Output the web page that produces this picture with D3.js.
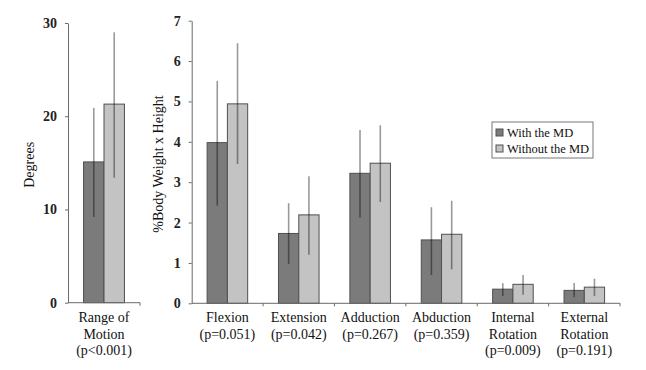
<!DOCTYPE html>
<html>
<head>
<meta charset="utf-8">
<script src="https://d3js.org/d3.v7.min.js"></script>
<style>
  body { margin: 0; background: #fff; }
</style>
</head>
<body>
<svg width="646" height="370"></svg>
<script>
const FONT = "'Liberation Serif', 'Times New Roman', Times, 'DejaVu Serif', serif";

// data
const series = ["With the MD", "Without the MD"];
const romCats = ["Range of Motion"];
const romLabels = [["Range of", "Motion", "(p<0.001)"]];
const romWith = [15.1];
const romWithout = [21.3];
const romWithErr = [[9.2, 20.9]];
const romWithoutErr = [[13.4, 29.0]];

const momCats = ["Flexion", "Extension", "Adduction", "Abduction", "Internal Rotation", "External Rotation"];
const momLabels = [
  ["Flexion", "(p=0.051)"],
  ["Extension", "(p=0.042)"],
  ["Adduction", "(p=0.267)"],
  ["Abduction", "(p=0.359)"],
  ["Internal", "Rotation", "(p=0.009)"],
  ["External", "Rotation", "(p=0.191)"]
];
const momWith = [3.98, 1.73, 3.22, 1.57, 0.35, 0.32];
const momWithout = [4.94, 2.19, 3.47, 1.71, 0.47, 0.40];
const momWithErr = [[2.42, 5.51], [0.97, 2.48], [2.12, 4.29], [0.70, 2.38], [0.18, 0.50], [0.15, 0.50]];
const momWithoutErr = [[3.45, 6.44], [1.20, 3.15], [2.51, 4.41], [0.84, 2.54], [0.21, 0.70], [0.18, 0.61]];

const romTicks = [0, 10, 20, 30];
const momTicks = [0, 1, 2, 3, 4, 5, 6, 7];

const colors = ["#7b7b7b", "#c3c3c3"];
const svg = d3.select("svg");

function panel(opts) {
  const rows = opts.cats.map((c, i) => ({
    cat: c,
    label: opts.labels[i],
    vals: [
      { s: series[0], v: opts.with[i], e: opts.withErr[i] },
      { s: series[1], v: opts.without[i], e: opts.withoutErr[i] }
    ]
  }));

  const x0 = d3.scaleBand().domain(opts.cats).range([opts.left, opts.right]).padding(0);
  const x1 = d3.scaleBand().domain(series).range([0, x0.bandwidth()]).paddingOuter(0.76).paddingInner(0);
  const y = d3.scaleLinear().domain(opts.domain).range([opts.bottom, opts.top]);

  const g = svg.append("g");

  // y axis
  const ya = g.append("g")
    .attr("transform", `translate(${opts.left},0)`)
    .call(d3.axisLeft(y).tickValues(opts.ticks).tickFormat(d3.format("d"))
      .tickSize(3).tickPadding(8).tickSizeOuter(0));
  ya.select(".domain").attr("stroke", "#6a6a6a");
  ya.selectAll(".tick line").attr("stroke", "#6a6a6a");
  ya.selectAll(".tick text")
    .style("font-family", FONT)
    .style("font-size", "14px")
    .style("font-weight", "bold")
    .attr("fill", "#222");

  // bars
  const grp = g.selectAll(".grp").data(rows).enter().append("g")
    .attr("transform", d => `translate(${x0(d.cat)},0)`);

  grp.selectAll("rect").data(d => d.vals).enter().append("rect")
    .attr("x", d => x1(d.s))
    .attr("y", d => y(d.v))
    .attr("width", x1.bandwidth())
    .attr("height", d => y(0) - y(d.v))
    .attr("fill", (d, i) => colors[i])
    .attr("stroke", "#505050")
    .attr("stroke-width", 1);

  grp.selectAll("line.err").data(d => d.vals).enter().append("line")
    .attr("class", "err")
    .attr("x1", d => x1(d.s) + x1.bandwidth() / 2)
    .attr("x2", d => x1(d.s) + x1.bandwidth() / 2)
    .attr("y1", d => y(d.e[0]))
    .attr("y2", d => y(d.e[1]))
    .attr("stroke", "#000")
    .attr("stroke-opacity", 0.4)
    .attr("stroke-width", 1.6);

  // x axis line with ticks at category edges
  g.append("line")
    .attr("x1", opts.left).attr("x2", opts.right)
    .attr("y1", y(0)).attr("y2", y(0))
    .attr("stroke", "#6a6a6a");
  const edges = opts.cats.map(c => x0(c) + x0.bandwidth());
  g.selectAll(".xt").data(edges).enter().append("line")
    .attr("x1", d => d).attr("x2", d => d)
    .attr("y1", y(0)).attr("y2", y(0) + 3)
    .attr("stroke", "#6a6a6a");

  // category labels
  const lab = g.selectAll(".lab").data(rows).enter().append("text")
    .attr("text-anchor", "middle")
    .style("font-family", FONT)
    .style("font-size", "14px")
    .attr("fill", "#111")
    .attr("transform", d => `translate(${x0(d.cat) + x0.bandwidth() / 2},${opts.labelY})`);
  lab.selectAll("tspan").data(d => d.label).enter().append("tspan")
    .attr("x", 0)
    .attr("y", (d, i) => i * 16.5)
    .text(d => d);

  // y title
  g.append("text")
    .attr("transform", `translate(${opts.titleX},${(opts.top + opts.bottom) / 2 + 2}) rotate(-90)`)
    .attr("text-anchor", "middle")
    .style("font-family", FONT)
    .style("font-size", "14px")
    .attr("fill", "#111")
    .text(opts.title);
}

panel({
  cats: romCats, labels: romLabels, with: romWith, without: romWithout,
  withErr: romWithErr, withoutErr: romWithoutErr,
  domain: [0, 30], ticks: romTicks,
  left: 68, right: 140, top: 23, bottom: 302.7, labelY: 322,
  title: "Degrees", titleX: 34
});

panel({
  cats: momCats, labels: momLabels, with: momWith, without: momWithout,
  withErr: momWithErr, withoutErr: momWithoutErr,
  domain: [0, 7], ticks: momTicks,
  left: 191.7, right: 620, top: 20.7, bottom: 303.3, labelY: 322,
  title: "%Body Weight x Height", titleX: 163
});

// legend
const lg = svg.append("g").attr("transform", "translate(492,122)");
lg.append("rect")
  .attr("width", 101).attr("height", 36)
  .attr("fill", "#fff").attr("stroke", "#777");
const li = lg.selectAll(".li").data(series).enter().append("g")
  .attr("transform", (d, i) => `translate(4,${7 + i * 16})`);
li.append("rect")
  .attr("width", 7).attr("height", 7)
  .attr("fill", (d, i) => colors[i])
  .attr("stroke", "#505050");
li.append("text")
  .attr("x", 11).attr("y", 8)
  .style("font-family", FONT)
  .style("font-size", "12.5px")
  .attr("fill", "#111")
  .text(d => d);
</script>
</body>
</html>
